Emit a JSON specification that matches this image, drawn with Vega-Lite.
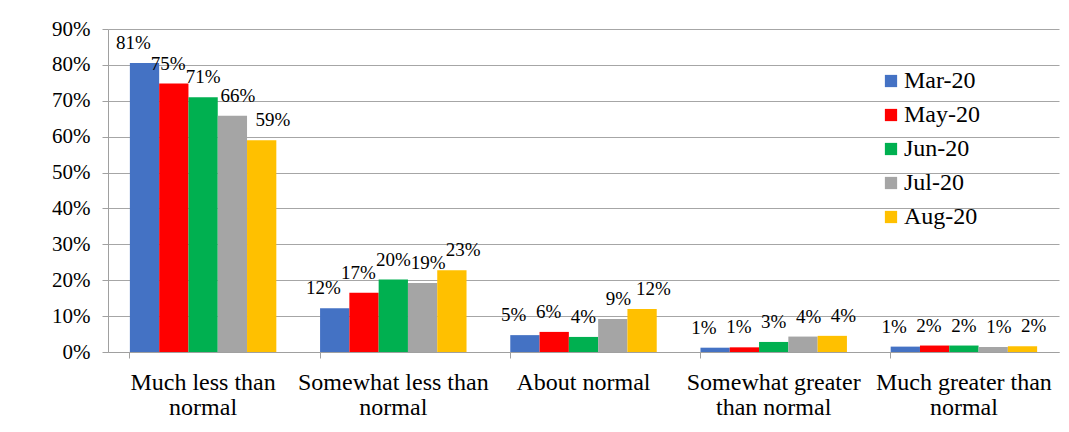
{
  "$schema": "https://vega.github.io/schema/vega-lite/v6.json",
  "autosize": {"type": "none"},
  "width": 951,
  "height": 323,
  "padding": {"left": 108, "top": 29, "right": 10, "bottom": 80},
  "background": "white",
  "config": {
    "font": "'Times New Roman', 'Liberation Serif', 'DejaVu Serif', serif",
    "view": {"stroke": null},
    "axis": {"labelFont": "'Times New Roman', 'Liberation Serif', 'DejaVu Serif', serif"},
    "legend": {"labelFont": "'Times New Roman', 'Liberation Serif', 'DejaVu Serif', serif"},
    "text": {"font": "'Times New Roman', 'Liberation Serif', 'DejaVu Serif', serif"}
  },
  "data": {
    "values": [
      {"category": "Much less than normal", "series": "Mar-20", "value": 0.805, "label": "81%"},
      {"category": "Much less than normal", "series": "May-20", "value": 0.748, "label": "75%"},
      {"category": "Much less than normal", "series": "Jun-20", "value": 0.71, "label": "71%"},
      {"category": "Much less than normal", "series": "Jul-20", "value": 0.658, "label": "66%"},
      {"category": "Much less than normal", "series": "Aug-20", "value": 0.59, "label": "59%"},
      {"category": "Somewhat less than normal", "series": "Mar-20", "value": 0.122, "label": "12%"},
      {"category": "Somewhat less than normal", "series": "May-20", "value": 0.165, "label": "17%"},
      {"category": "Somewhat less than normal", "series": "Jun-20", "value": 0.202, "label": "20%"},
      {"category": "Somewhat less than normal", "series": "Jul-20", "value": 0.192, "label": "19%"},
      {"category": "Somewhat less than normal", "series": "Aug-20", "value": 0.228, "label": "23%"},
      {"category": "About normal", "series": "Mar-20", "value": 0.047, "label": "5%"},
      {"category": "About normal", "series": "May-20", "value": 0.056, "label": "6%"},
      {"category": "About normal", "series": "Jun-20", "value": 0.042, "label": "4%"},
      {"category": "About normal", "series": "Jul-20", "value": 0.092, "label": "9%"},
      {"category": "About normal", "series": "Aug-20", "value": 0.12, "label": "12%"},
      {"category": "Somewhat greater than normal", "series": "Mar-20", "value": 0.012, "label": "1%"},
      {"category": "Somewhat greater than normal", "series": "May-20", "value": 0.013, "label": "1%"},
      {"category": "Somewhat greater than normal", "series": "Jun-20", "value": 0.028, "label": "3%"},
      {"category": "Somewhat greater than normal", "series": "Jul-20", "value": 0.043, "label": "4%"},
      {"category": "Somewhat greater than normal", "series": "Aug-20", "value": 0.045, "label": "4%"},
      {"category": "Much greater than normal", "series": "Mar-20", "value": 0.015, "label": "1%"},
      {"category": "Much greater than normal", "series": "May-20", "value": 0.018, "label": "2%"},
      {"category": "Much greater than normal", "series": "Jun-20", "value": 0.018, "label": "2%"},
      {"category": "Much greater than normal", "series": "Jul-20", "value": 0.014, "label": "1%"},
      {"category": "Much greater than normal", "series": "Aug-20", "value": 0.016, "label": "2%"}
    ]
  },
  "encoding": {
    "x": {
      "field": "category",
      "type": "nominal",
      "sort": null,
      "scale": {"paddingInner": 0.23, "paddingOuter": 0.115},
      "axis": {
        "title": null,
        "labelAngle": 0,
        "labelFontSize": 24,
        "labelColor": "#000000",
        "labelPadding": 12,
        "labelLineHeight": 25,
        "labelLimit": 300,
        "bandPosition": 0,
        "tickSize": 6,
        "tickColor": "#a0a0a0",
        "domainColor": "#a0a0a0",
        "labelExpr": "datum.value == 'Somewhat greater than normal' ? ['Somewhat greater', 'than normal'] : (datum.value == 'About normal' ? 'About normal' : [replace(datum.value, ' normal', ''), 'normal'])"
      }
    },
    "y": {
      "field": "value",
      "type": "quantitative",
      "scale": {"domain": [0, 0.9], "nice": false},
      "axis": {
        "title": null,
        "format": ".0%",
        "values": [0, 0.1, 0.2, 0.3, 0.4, 0.5, 0.6, 0.7, 0.8, 0.9],
        "labelFontSize": 21,
        "labelColor": "#000000",
        "labelPadding": 12,
        "tickSize": 6,
        "tickColor": "#a0a0a0",
        "domainColor": "#a0a0a0",
        "gridColor": "#a6a6a6",
        "gridWidth": 1.2
      }
    }
  },
  "resolve": {"scale": {"xOffset": "independent"}},
  "layer": [
    {
      "mark": {"type": "bar"},
      "encoding": {
        "xOffset": {"field": "series", "type": "nominal", "sort": ["Mar-20", "May-20", "Jun-20", "Jul-20", "Aug-20"]},
        "color": {
          "field": "series",
          "type": "nominal",
          "sort": ["Mar-20", "May-20", "Jun-20", "Jul-20", "Aug-20"],
          "scale": {
            "domain": ["Mar-20", "May-20", "Jun-20", "Jul-20", "Aug-20"],
            "range": ["#4472C4", "#FF0000", "#00B050", "#A5A5A5", "#FFC000"]
          },
          "legend": {
            "title": null,
            "orient": "none",
            "legendX": 771,
            "legendY": 40,
            "symbolType": "square",
            "symbolSize": 150,
            "symbolStrokeWidth": 0,
            "labelFontSize": 24,
            "labelColor": "#000000",
            "labelOffset": 1,
            "rowPadding": 10
          }
        }
      }
    },
    {
      "mark": {"type": "text", "baseline": "alphabetic", "dy": -14, "fontSize": 19, "color": "#000000"},
      "encoding": {
        "xOffset": {
          "field": "series",
          "type": "nominal",
          "sort": ["Mar-20", "May-20", "Jun-20", "Jul-20", "Aug-20"],
          "scale": {"range": [-14, 160.5]}
        },
        "text": {"field": "label"}
      }
    }
  ]
}
